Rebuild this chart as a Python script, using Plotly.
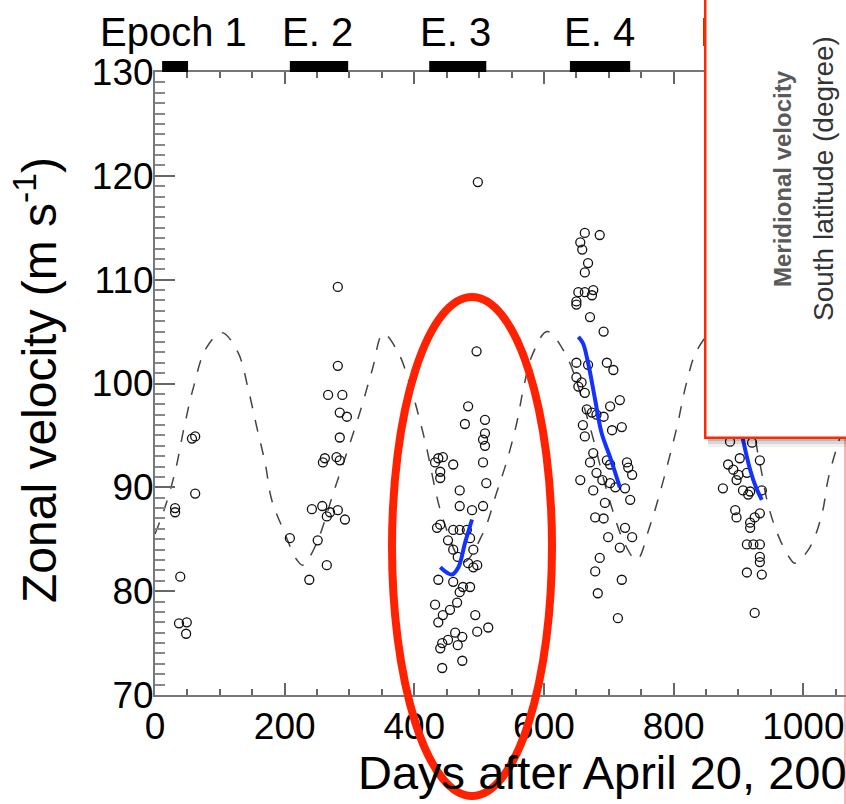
import plotly.graph_objects as go

# ---------------- data ----------------
e1_days = [62, 57, 62, 31, 31, 39, 37, 49, 48]
e1_vel = [94.9, 94.7, 89.4, 88.0, 87.6, 81.4, 76.9, 77.0, 75.9]

e2_days = [282, 282, 267, 289, 285, 296, 285, 262, 259, 280, 285, 242, 258, 270, 282, 293, 265, 251, 208, 265, 238]
e2_vel = [109.3, 101.7, 98.9, 98.9, 97.2, 96.8, 94.8, 92.8, 92.4, 92.9, 92.6, 87.9, 88.2, 87.6, 87.8, 86.9, 87.2, 84.9, 85.1, 82.5, 81.1]

e3_days = [498, 496, 483, 478, 509, 509, 506, 509, 437, 444, 460, 440, 432, 506, 511, 470, 506, 489, 470, 440,
           440, 435, 460, 470, 481, 452, 486, 491, 460, 467, 483, 497, 491, 437, 460, 486, 470, 475, 466, 432,
           455, 444, 437, 494, 497, 514, 463, 474, 452, 440, 443, 467, 443, 474]
e3_vel = [119.4, 103.1, 97.8, 96.1, 96.5, 95.2, 94.6, 94.0, 92.8, 92.9, 92.2, 91.5, 92.4, 92.4, 90.4, 89.7, 88.2, 87.8, 88.2, 90.9,
          86.4, 86.1, 85.9, 85.9, 85.9, 84.9, 85.1, 84.0, 84.0, 83.3, 82.7, 82.5, 82.3, 81.1, 80.9, 80.4, 79.9, 80.4, 78.9, 78.7,
          78.2, 77.7, 77.0, 77.7, 76.1, 76.5, 76.0, 75.6, 75.3, 74.5, 75.0, 74.8, 72.6, 73.3]

e4_days = [663, 686, 656, 659, 668, 663, 653, 663, 676, 674, 650, 650, 671, 692, 650, 668, 697, 707, 650, 658,
           653, 663, 717, 666, 674, 681, 702, 692, 660, 705, 720, 663, 676, 671, 697, 702, 728, 730, 736, 656,
           681, 690, 702, 676, 710, 725, 733, 694, 679, 692, 725, 736, 699, 717, 686, 679, 720, 683, 714]
e4_vel = [114.5, 114.3, 113.6, 112.9, 111.6, 110.7, 108.8, 108.8, 109.0, 108.5, 107.9, 107.6, 106.4, 105.0, 102.0, 101.8, 102.0, 101.3, 100.6, 100.1,
          99.7, 99.1, 98.4, 97.5, 97.2, 97.0, 97.8, 96.8, 96.0, 95.5, 95.8, 94.9, 93.3, 92.4, 92.6, 92.2, 92.4, 91.9, 91.2, 90.7,
          91.4, 90.7, 90.4, 89.7, 90.0, 89.9, 88.8, 88.5, 87.1, 87.0, 86.1, 85.2, 85.2, 84.2, 83.2, 81.9, 81.1, 79.8, 77.4]

e5_days = [887, 921, 902, 933, 884, 892, 900, 913, 897, 876, 907, 918, 936, 915, 895, 897, 933, 925, 918, 918,
           913, 923, 933, 933, 933, 913, 936, 925]
e5_vel = [94.4, 94.3, 92.8, 92.6, 92.2, 91.7, 91.2, 91.4, 90.7, 89.9, 89.7, 89.6, 89.7, 89.3, 87.8, 87.1, 87.5, 87.1, 86.6, 86.1,
          84.5, 84.5, 84.5, 83.3, 82.8, 81.8, 81.6, 77.9]

model_days = [0, 15, 31, 45, 60, 78, 103, 128, 144, 157, 170, 180, 198, 219, 228, 247, 278, 316, 335, 352,
              375, 395, 416, 445, 476, 506, 527, 543, 558, 568, 581, 605, 635, 670, 700, 725, 743, 763, 779, 805,
              820, 836, 862, 900, 933, 945, 961, 979, 987, 1010, 1029, 1038, 1052, 1066]
model_vel = [85.5, 88.0, 91.5, 95.8, 99.8, 103.3, 104.9, 103.0, 99.4, 95.8, 92.3, 88.8, 85.9, 83.0, 82.5, 84.3, 90.0, 97.2, 101.3, 104.8,
             103.0, 99.5, 94.6, 86.8, 82.8, 85.6, 89.5, 92.6, 96.2, 99.4, 102.6, 105.0, 102.6, 96.0, 89.0, 84.5, 83.0, 86.2, 89.5, 95.8,
             100.1, 103.2, 105.0, 101.5, 92.3, 88.5, 85.4, 83.2, 82.7, 84.2, 87.5, 90.7, 93.9, 96.5]

fit3_days = [440, 450, 458, 468, 478, 489]
fit3_vel = [82.3, 81.8, 81.6, 82.3, 84.6, 86.9]
fit4_days = [653, 660, 668, 679, 689, 702, 717]
fit4_vel = [104.5, 103.9, 102.0, 98.4, 95.2, 92.9, 90.0]
fit5_days = [898, 907, 918, 927, 936]
fit5_vel = [97.5, 94.6, 91.7, 90.0, 88.8]

epoch_labels = ["Epoch 1", "E. 2", "E. 3", "E. 4", "E. 5"]
epoch_label_days = [29, 251, 464, 685, 896]
epoch_start = [11, 208, 423, 640]
epoch_end = [51, 298, 511, 733]

x_tick_vals = [0, 200, 400, 600, 800, 1000]
y_tick_vals = [70, 80, 90, 100, 110, 120, 130]

# ---------------- figure ----------------
W, H = 846, 804
L, T, R, B = 155, 72, 0, 109
PW, PH = W - L - R, H - T - B


def px(xp):
    return (xp - L) / PW


def py(yp):
    return (H - B - yp) / PH


FONT = "Liberation Sans, Arial, sans-serif"

fig = go.Figure()

fig.add_trace(go.Scatter(x=model_days, y=model_vel, mode="lines", line_shape="spline",
                         line=dict(color="#444", width=1.5, dash="12px,12px"), hoverinfo="skip"))

for d, v in [(e1_days, e1_vel), (e2_days, e2_vel), (e3_days, e3_vel), (e4_days, e4_vel), (e5_days, e5_vel)]:
    fig.add_trace(go.Scatter(x=d, y=v, mode="markers",
                             marker=dict(symbol="circle-open", size=9, color="#111", line=dict(width=1.3))))

for d, v in [(fit3_days, fit3_vel), (fit4_days, fit4_vel), (fit5_days, fit5_vel)]:
    fig.add_trace(go.Scatter(x=d, y=v, mode="lines", line_shape="spline",
                             line=dict(color="#1233ff", width=4)))

shapes = []
for s, e in zip(epoch_start, epoch_end):
    shapes.append(dict(type="rect", xref="x", yref="paper", x0=s, x1=e, y0=py(72), y1=py(61),
                       fillcolor="black", line=dict(width=0), layer="above"))
# red ellipse highlight
shapes.append(dict(type="circle", xref="paper", yref="paper", x0=px(392), x1=px(552), y0=py(796), y1=py(297),
                   line=dict(color="#ff2200", width=8), layer="above"))
# faint red line at right edge
shapes.append(dict(type="line", xref="paper", yref="paper", x0=px(845), x1=px(845), y0=py(438), y1=py(804),
                   line=dict(color="rgba(255,90,70,0.6)", width=1.5), layer="above"))

annotations = []
for lab, d in zip(epoch_labels, epoch_label_days):
    annotations.append(dict(text=lab, xref="x", yref="paper", x=d, y=py(32), showarrow=False,
                            xanchor="center", yanchor="middle", font=dict(family=FONT, size=40, color="black")))

annotations.append(dict(text="Zonal velocity (m s<sup>-1</sup>)", xref="paper", yref="paper", x=px(36), y=py(380),
                        textangle=-90, showarrow=False, xanchor="center", yanchor="middle",
                        font=dict(family=FONT, size=48, color="black")))
annotations.append(dict(text="Days after April 20, 2006", xref="paper", yref="paper", x=px(356), y=py(772),
                        showarrow=False, xanchor="left", yanchor="middle",
                        font=dict(family=FONT, size=47, color="black")))

# inset panel (overlapping neighbouring figure)
for sh, a in [(-9, 0.06), (-6, 0.10), (-3, 0.15)]:
    annotations.append(dict(text=" ", xref="paper", yref="paper", x=px(708), y=py(-6), xanchor="left", yanchor="top",
                            width=160, height=444, bgcolor=f"rgba(0,0,0,{a})", borderpad=0, borderwidth=0,
                            yshift=sh, showarrow=False))
annotations.append(dict(text=" ", xref="paper", yref="paper", x=px(704), y=py(-6), xanchor="left", yanchor="top",
                        width=160, height=440, bgcolor="white", bordercolor="#ff2a00", borderwidth=2.5,
                        borderpad=0, showarrow=False))
annotations.append(dict(text="<b>Meridional velocity</b>", xref="paper", yref="paper", x=px(782), y=py(179),
                        textangle=-90, showarrow=False, xanchor="center", yanchor="middle",
                        font=dict(family=FONT, size=24, color="#5a5a5a")))
annotations.append(dict(text="South latitude (degree)", xref="paper", yref="paper", x=px(823), y=py(179),
                        textangle=-90, showarrow=False, xanchor="center", yanchor="middle",
                        font=dict(family=FONT, size=28, color="#333")))

fig.update_layout(
    width=W, height=H, margin=dict(l=L, r=R, t=T, b=B, pad=0),
    paper_bgcolor="white", plot_bgcolor="white", showlegend=False,
    shapes=shapes, annotations=annotations,
    font=dict(family=FONT, color="black"),
)
fig.update_xaxes(range=[0, (W - L - R) / 0.6483], tickvals=x_tick_vals, ticks="inside", ticklen=12, tickwidth=1.5,
                 tickcolor="#666", showline=True, linecolor="#777", linewidth=2, mirror="ticks", showgrid=False,
                 zeroline=False, tickfont=dict(family=FONT, size=37, color="black"),
                 minor=dict(dtick=50, tick0=0, ticks="inside", ticklen=6, tickcolor="#666", tickwidth=1.5))
fig.update_yaxes(range=[70, 130], tickvals=y_tick_vals, ticks="inside", ticklen=20, tickwidth=1.5,
                 tickcolor="#666", showline=True, linecolor="#777", linewidth=2, mirror=False, showgrid=False,
                 zeroline=False, tickfont=dict(family=FONT, size=37, color="black"),
                 minor=dict(dtick=1, tick0=70, ticks="inside", ticklen=10, tickcolor="#888", tickwidth=1.5))
try:
    fig.update_xaxes(ticklabelstandoff=-2)
    fig.update_yaxes(ticklabelstandoff=-8)
except ValueError:
    fig.update_xaxes(ticklabelstandoff=0)
    fig.update_yaxes(ticklabelstandoff=0)

fig.write_html("out.html")
